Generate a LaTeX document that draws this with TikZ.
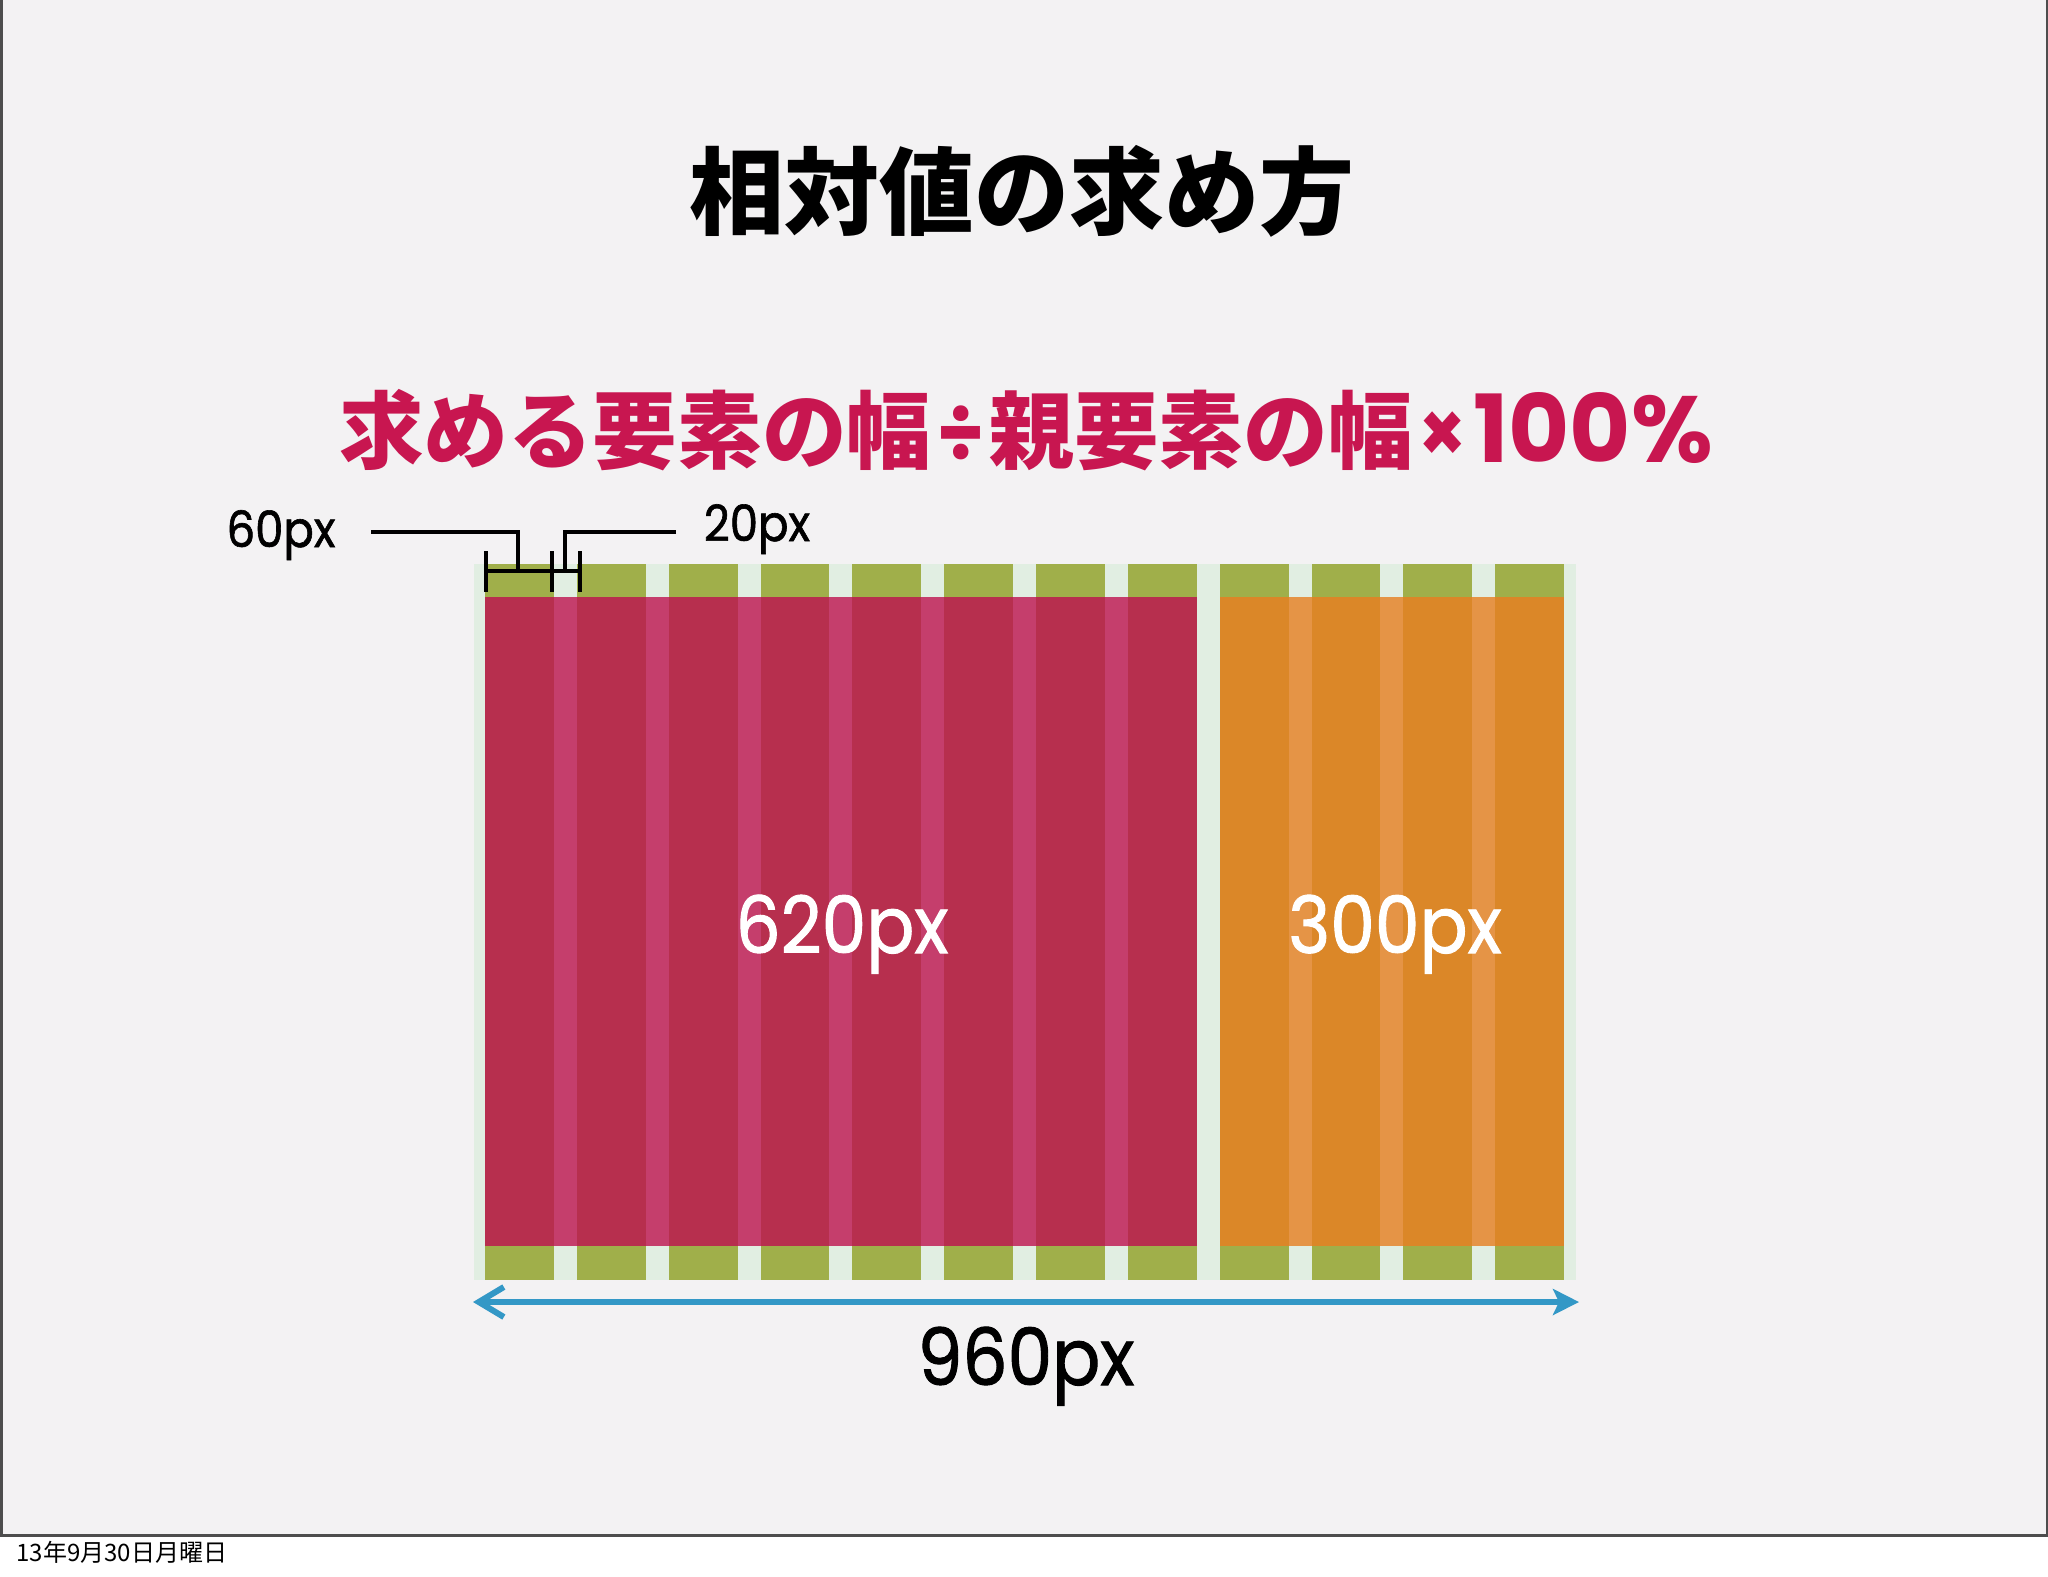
\documentclass[tikz,border=0pt]{standalone}
\usepackage{fontspec}
\usetikzlibrary{arrows.meta}
\newfontfamily\jp{Noto Sans CJK JP}
\newfontfamily\geo{Poppins}[FakeStretch=0.9]
\newfontfamily\geon{Poppins}
\newfontfamily\geom{Poppins}[FakeStretch=0.9, FakeBold=1.2]
\definecolor{slidebg}{RGB}{243,242,243}
\definecolor{framec}{RGB}{77,77,77}
\definecolor{palegreen}{RGB}{225,238,226}
\definecolor{olivec}{RGB}{160,175,74}
\definecolor{redc}{RGB}{183,47,78}
\definecolor{pinkc}{RGB}{197,62,108}
\definecolor{orangec}{RGB}{219,135,40}
\definecolor{lorangec}{RGB}{229,148,70}
\definecolor{bluec}{RGB}{51,152,198}
\definecolor{formulac}{RGB}{200,22,80}
\newcommand{\geosym}[1]{\kern3pt{\geo\bfseries #1}\kern3pt}
\begin{document}
\begin{tikzpicture}[x=0.5pt,y=-0.5pt,
  title/.style={inner sep=0pt, font=\jp\bfseries\fontsize{47.5}{48}\selectfont, text=black},
  formula/.style={inner sep=0pt, font=\jp\bfseries\fontsize{42.3}{43}\selectfont, text=formulac},
  small/.style={inner sep=0pt, anchor=base, font=\geom\fontsize{25}{25}\selectfont, text=black},
  big/.style={inner sep=0pt, anchor=base, font=\geom\fontsize{39.5}{40}\selectfont},
  dimline/.style={line width=2pt, black},
  widtharrow/.style={line width=3pt, bluec, {Straight Barb[length=12.5pt,width=15pt,line width=3pt]}-{Stealth[length=13pt,width=13pt,inset=3pt]}},
  footer/.style={inner sep=0pt, anchor=base west, font=\jp\fontsize{12}{12}\selectfont}
]
\useasboundingbox (0,0) rectangle (2048,1576);
\fill[slidebg] (0,0) rectangle (2048,1536);
\fill[white] (0,1536) rectangle (2048,1576);
\draw[framec, line width=1.5pt] (1,0) -- (1,1535.5) -- (2047,1535.5) -- (2047,0);

% titles
\node[title] (title) at (1022,191) {相対値の求め方};
\node[formula] (formula) at (1026,430.5) {求める要素の幅\geosym{÷}親要素の幅\geosym{×}{\geon\bfseries\fontsize{47}{47}\selectfont 100\%}};

% grid background and columns
\fill[palegreen] (473.5,564) rectangle (1575.5,1280);
\foreach \i in {0,...,11} {
  \pgfmathsetmacro{\L}{473.5+1.148*(10+80*\i)}
  \fill[olivec] (\L,564) rectangle ({\L+68.88},1280);
}
% content blocks
\fill[redc] (485,597) rectangle (1196.7,1246);
\foreach \i in {0,...,6} {
  \pgfmathsetmacro{\G}{473.5+1.148*(70+80*\i)}
  \fill[pinkc] (\G,597) rectangle ({\G+22.96},1246);
}
\fill[orangec] (1219.7,597) rectangle (1564.1,1246);
\foreach \i in {8,...,10} {
  \pgfmathsetmacro{\G}{473.5+1.148*(70+80*\i)}
  \fill[lorangec] (\G,597) rectangle ({\G+22.96},1246);
}

% block labels
\node[big, text=white] (w620) at (842,953) {620px};
\node[big, text=white] (w300) at (1395,953) {300px};
\node[big, text=black] (w960) at (1026,1385) {960px};

% dimension marks
\node[small] (l60) at (281,547) {60px};
\node[small] (l20) at (757,541) {20px};
\coordinate (d0) at (486,571);
\coordinate (d1) at (552,571);
\coordinate (d2) at (580,571);
\coordinate (k60) at (518,571);
\coordinate (k20) at (565,571);
\coordinate (s60) at (371,532);
\coordinate (s20) at (676,532);
\draw[dimline] (d0) -- (d2);
\foreach \c in {d0,d1,d2} {
  \draw[dimline] ([yshift=10pt]\c) -- ([yshift=-10.5pt]\c);
}
\draw[dimline] (s60) -| (k60);
\draw[dimline] (s20) -| (k20);

% width arrow
\coordinate (aL) at (473,1302);
\coordinate (aR) at (1579,1302);
\draw[widtharrow] (aL) -- (aR);

% footer
\node[footer] (date) at (16,1561) {13年9月30日月曜日};
\end{tikzpicture}
\end{document}
